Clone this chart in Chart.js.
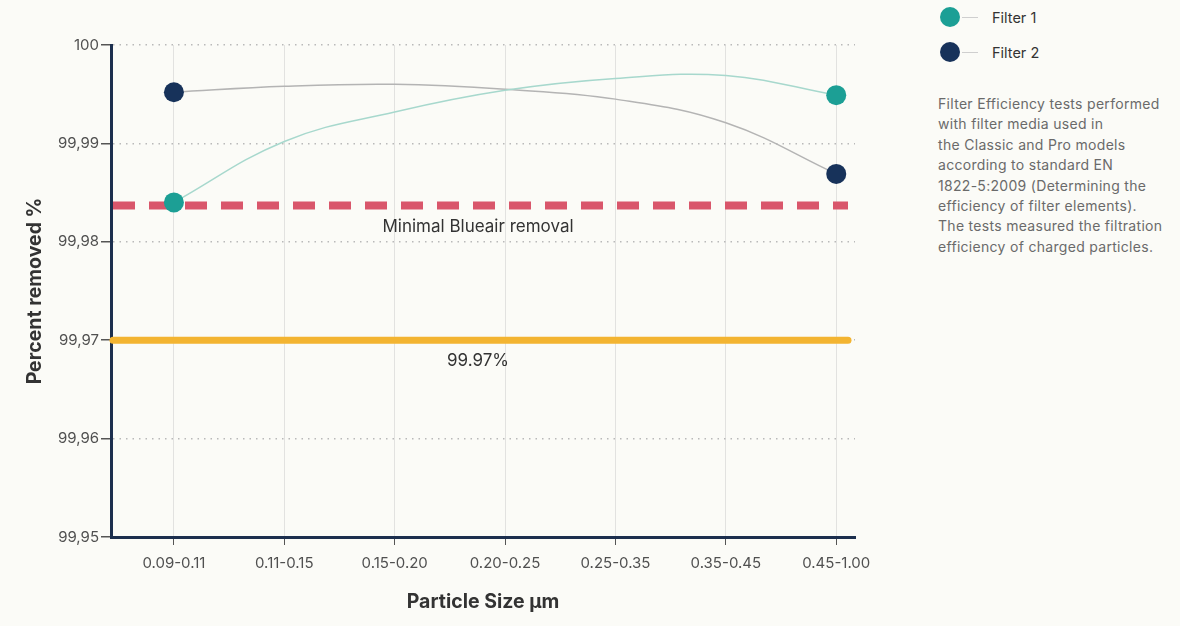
<!DOCTYPE html>
<html>
<head>
<meta charset="utf-8">
<script src="https://cdn.jsdelivr.net/npm/chart.js@4.4.1/dist/chart.umd.min.js"></script>
<style>
  html, body { margin: 0; padding: 0; background: #fbfbf7; }
  body { width: 1180px; height: 626px; position: relative; overflow: hidden; font-family: Inter, "Open Sans", sans-serif; }
  #chart-wrap { position: absolute; left: 0; top: 0; width: 900px; height: 626px; }
  #side { position: absolute; left: 938px; top: 0; width: 240px; color: #333; }
  .legend-item { position: absolute; left: 2px; height: 20px; display: flex; align-items: center; font-size: 14.5px; }
  .legend-item .dot { width: 20px; height: 20px; border-radius: 50%; }
  .legend-item .stub { width: 16px; height: 1px; background: #cfcfcf; margin: 0 14px 0 2px; }
  #note { position: absolute; top: 94px; left: 0; font-size: 14px; letter-spacing: 0.3px; line-height: 20.4px; color: #6a6a6a; white-space: nowrap; }
</style>
</head>
<body>
<div id="chart-wrap"><canvas id="filterChart"></canvas></div>
<div id="side">
  <div class="legend-item" style="top:7px"><span class="dot" style="background:#1c9f95"></span><span class="stub"></span>Filter 1</div>
  <div class="legend-item" style="top:42px"><span class="dot" style="background:#17325a"></span><span class="stub"></span>Filter 2</div>
  <div id="note">Filter Efficiency tests performed<br>with filter media used in<br>the Classic and Pro models<br>according to standard EN<br>1822-5:2009 (Determining the<br>efficiency of filter elements).<br>The tests measured the filtration<br>efficiency of charged particles.</div>
</div>
<script>
// data
const categories = ['0.09-0.11', '0.11-0.15', '0.15-0.20', '0.20-0.25', '0.25-0.35', '0.35-0.45', '0.45-1.00'];
const filter1 = [99.9840, 99.9902, 99.9932, 99.9954, 99.9966, 99.9969, 99.9949];
const filter2 = [99.9952, 99.9958, 99.9960, 99.9955, 99.9945, 99.9921, 99.9869];
const yTicks = [99.95, 99.96, 99.97, 99.98, 99.99, 100];
const minimalRemoval = 99.9837;
const hepaLevel = 99.97;
const minimalLabel = 'Minimal Blueair removal';
const hepaLabel = '99.97%';

// only the two measured points get a marker, the rest just shape the curve
const markerSizes = categories.map((c, i) => (i === 0 || i === categories.length - 1) ? 10 : 0);

Chart.defaults.font.family = 'Inter, "Open Sans", sans-serif';

// horizontal reference lines drawn across the plot
const referenceLines = {
    id: 'referenceLines',
    beforeDatasetsDraw(chart) {
        const { ctx, chartArea, scales } = chart;
        const midX = (chartArea.left + chartArea.right) / 2 - 5;

        const redY = scales.y.getPixelForValue(minimalRemoval);
        ctx.save();
        ctx.strokeStyle = '#d9566b';
        ctx.lineWidth = 8;
        ctx.setLineDash([22, 14]);
        ctx.beginPath();
        ctx.moveTo(chartArea.left + 2, redY);
        ctx.lineTo(chartArea.right - 7, redY);
        ctx.stroke();

        const yellowY = scales.y.getPixelForValue(hepaLevel);
        ctx.setLineDash([]);
        ctx.strokeStyle = '#f3b431';
        ctx.lineWidth = 7;
        ctx.lineCap = 'round';
        ctx.beginPath();
        ctx.moveTo(chartArea.left + 2, yellowY);
        ctx.lineTo(chartArea.right - 7, yellowY);
        ctx.stroke();

        ctx.fillStyle = '#333';
        ctx.font = '17px Inter, "Open Sans", sans-serif';
        ctx.textAlign = 'center';
        ctx.textBaseline = 'middle';
        ctx.fillText(minimalLabel, midX, redY + 21);
        ctx.fillText(hepaLabel, midX, yellowY + 21);
        ctx.restore();
    }
};

const ctx = document.getElementById('filterChart').getContext('2d');
const filterChart = new Chart(ctx, {
    type: 'line',
    data: {
        datasets: [
            {
                label: 'Filter 1',
                data: filter1.map((v, i) => ({ x: i, y: v })),
                borderColor: '#a7d8cd',
                borderWidth: 1.5,
                pointBackgroundColor: '#1c9f95',
                pointBorderWidth: 0,
                pointRadius: markerSizes,
                pointHoverRadius: markerSizes,
                tension: 0.4
            },
            {
                label: 'Filter 2',
                data: filter2.map((v, i) => ({ x: i, y: v })),
                borderColor: '#b4b4b4',
                borderWidth: 1.5,
                pointBackgroundColor: '#17325a',
                pointBorderWidth: 0,
                pointRadius: markerSizes,
                pointHoverRadius: markerSizes,
                tension: 0.4
            }
        ]
    },
    options: {
        responsive: true,
        maintainAspectRatio: false,
        animation: false,
        events: [],
        layout: { padding: { top: 45, right: 45, bottom: 0, left: 0 } },
        plugins: {
            legend: { display: false },
            tooltip: { enabled: false }
        },
        scales: {
            x: {
                type: 'linear',
                min: -0.57,
                max: 6.17,
                afterBuildTicks: (scale) => { scale.ticks = categories.map((c, i) => ({ value: i })); },
                afterFit: (scale) => { scale.height = 89; },
                ticks: {
                    callback: (v) => categories[v],
                    color: '#505050',
                    font: { size: 15 },
                    padding: 9,
                    maxRotation: 0
                },
                grid: {
                    color: '#e2e2e0',
                    lineWidth: 1,
                    tickColor: '#555',
                    tickLength: 8
                },
                border: { color: '#1c2f4e', width: 3 },
                title: {
                    display: true,
                    text: 'Particle Size µm',
                    color: '#333',
                    font: { size: 19.5, weight: 'bold' },
                    padding: { bottom: 12 }
                }
            },
            y: {
                min: 99.95,
                max: 100,
                afterBuildTicks: (scale) => { scale.ticks = yTicks.map(v => ({ value: v })); },
                afterFit: (scale) => { scale.width = 111; },
                ticks: {
                    callback: (v) => v === 100 ? '100' : v.toFixed(2).replace('.', ','),
                    color: '#505050',
                    font: { size: 15 },
                    padding: 2
                },
                grid: {
                    color: '#b9b9b9',
                    lineWidth: 1.5,
                    tickColor: '#555',
                    tickLength: 10,
                    tickBorderDash: []
                },
                border: { color: '#1c2f4e', width: 3, dash: [1.5, 5] },
                title: {
                    display: true,
                    text: 'Percent removed %',
                    color: '#333',
                    font: { size: 19.5, weight: 'bold' },
                    padding: { top: 23 }
                }
            }
        }
    },
    plugins: [referenceLines]
});
</script>
</body>
</html>
